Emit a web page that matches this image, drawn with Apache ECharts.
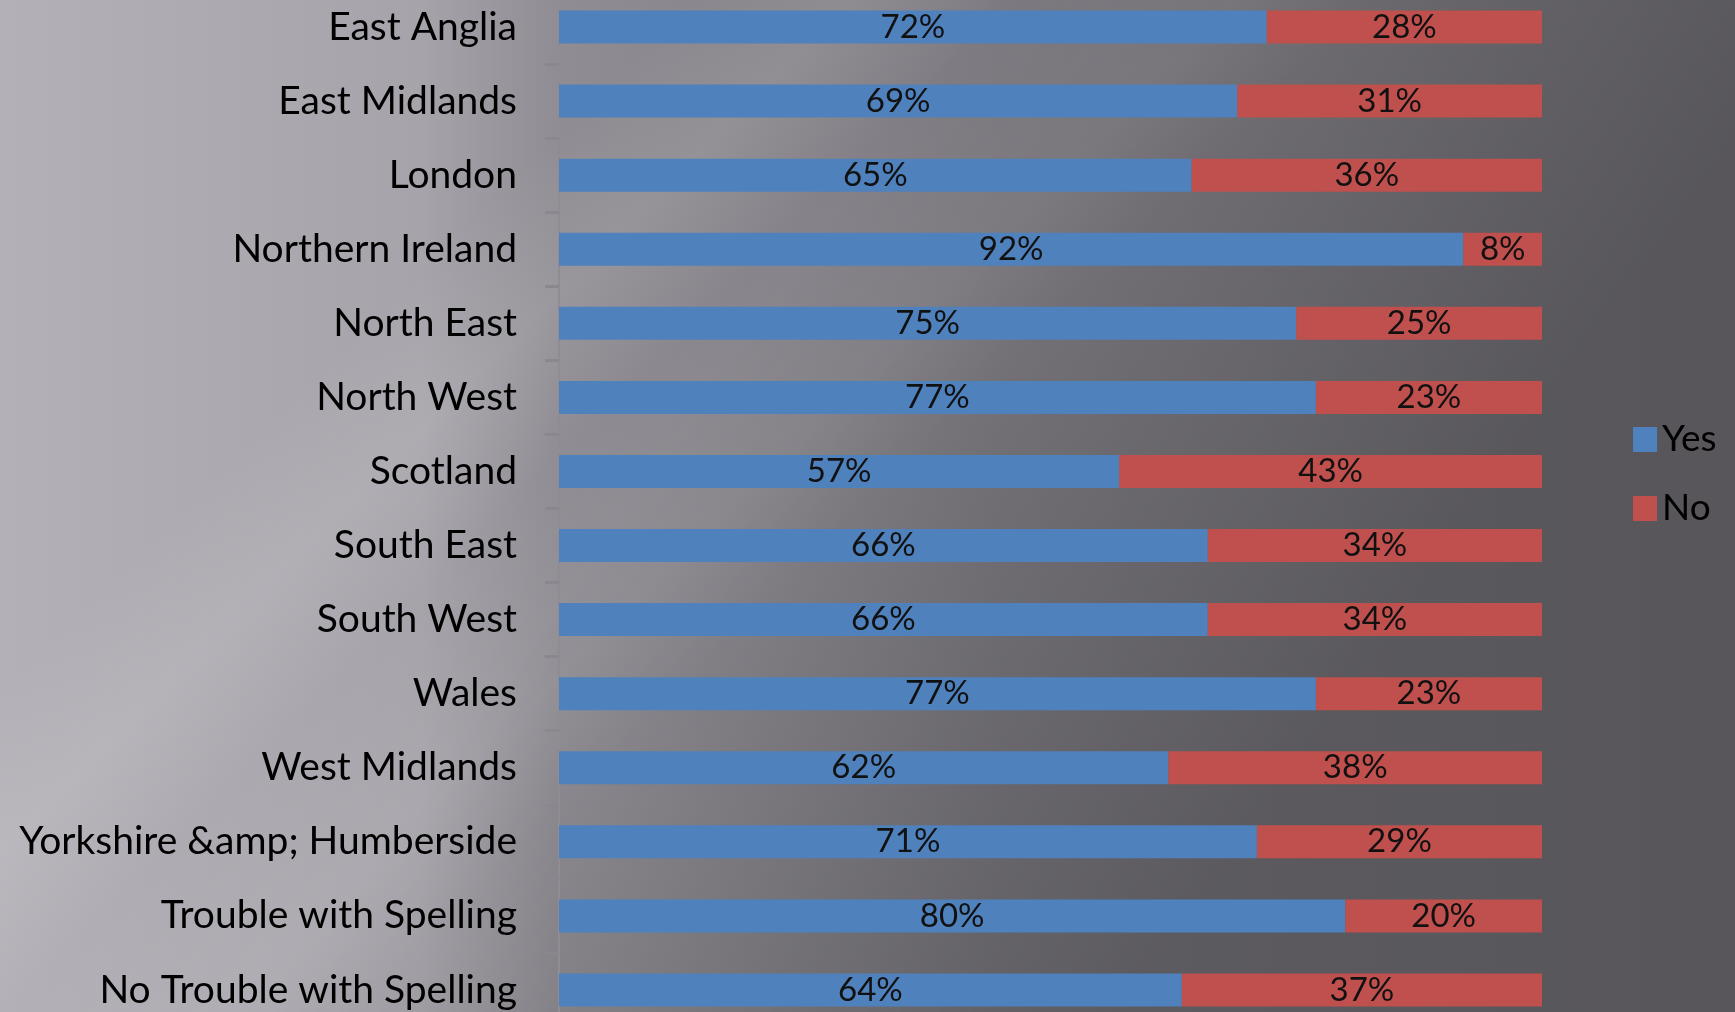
<!DOCTYPE html>
<html>
<head>
<meta charset="utf-8">
<script src="https://cdn.jsdelivr.net/npm/echarts@6/dist/echarts.min.js"></script>
<style>
  html, body { margin: 0; padding: 0; }
  #wrap {
    position: relative;
    width: 1735px;
    height: 1012px;
    overflow: hidden;
    background:
      linear-gradient(125deg, rgba(0,0,0,0) 40%, rgba(0,0,0,0.25) 75%, rgba(0,0,0,0.25) 100%),
      linear-gradient(135deg, rgba(255,255,255,0) 25%, rgba(255,255,255,0.09) 31%, rgba(255,255,255,0) 37%, rgba(255,255,255,0.05) 45%, rgba(255,255,255,0) 50%),
      linear-gradient(to right, #b3b0b7 0px, #a6a3aa 420px, #8f8d93 560px, #7d7b81 1000px, #76747a 1540px, #757379 1735px);
  }
  /* plot runs past the picture's top and bottom edge */
  #info {
    position: absolute;
    left: 0;
    top: -10px;
    width: 1735px;
    height: 1037px;
  }
</style>
</head>
<body>
<div id="wrap"><div id="info"></div></div>
<script>
  var categories = ['East Anglia', 'East Midlands', 'London', 'Northern Ireland', 'North East',
    'North West', 'Scotland', 'South East', 'South West', 'Wales', 'West Midlands',
    'Yorkshire &amp; Humberside', 'Trouble with Spelling', 'No Trouble with Spelling']
  var yes_values = [72, 69, 65, 92, 75, 77, 57, 66, 66, 77, 62, 71, 80, 64]
  var no_values = [28, 31, 36, 8, 25, 23, 43, 34, 34, 23, 38, 29, 20, 37]

  // 100% stacked: each row scaled to its own total, label keeps the printed value
  function share(vals, i){
    return vals[i] / (yes_values[i] + no_values[i]) * 100
  }
  function build(name, vals, color){
    var data = []
    for (var i = 0; i < vals.length; i++){
      data.push({value: share(vals, i), raw: vals[i]})
    }
    return {
      name: name,
      type: 'bar',
      stack: 'total',
      barWidth: 33,
      itemStyle: {color: color},
      label: {
        show: true,
        position: 'inside',
        color: '#111',
        fontFamily: 'Lato',
        fontSize: 33,
        formatter: function(p){ return p.data.raw + '%' }
      },
      data: data
    }
  }

  var chart = echarts.init(document.getElementById('info'), null, {renderer: 'canvas'})
  chart.setOption({
    backgroundColor: 'transparent',
    animation: false,
    grid: {left: 559, right: 193, top: 0, bottom: 0},
    legend: {
      orient: 'vertical',
      left: 1628,
      top: 426,
      icon: 'rect',
      itemWidth: 24,
      itemHeight: 25,
      itemGap: 32,
      textStyle: {color: '#000', fontFamily: 'Lato', fontSize: 37},
      data: ['Yes', 'No']
    },
    xAxis: {type: 'value', min: 0, max: 100, show: false},
    yAxis: {
      type: 'category',
      inverse: true,
      data: categories,
      axisLine: {show: true, lineStyle: {color: '#8f8d93', width: 2}},
      axisTick: {show: true, length: 14, lineStyle: {color: '#8a888e', width: 3}},
      axisLabel: {color: '#000', fontFamily: 'Lato', fontSize: 39, margin: 42}
    },
    series: [
      build('Yes', yes_values, '#4f81bd'),
      build('No', no_values, '#c0504d')
    ]
  })
</script>
</body>
</html>
